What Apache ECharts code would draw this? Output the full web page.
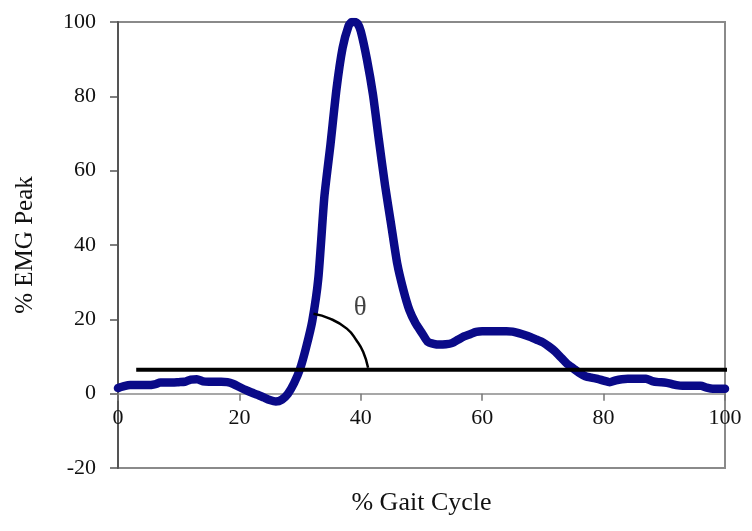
<!DOCTYPE html>
<html>
<head>
<meta charset="utf-8">
<script src="https://cdn.jsdelivr.net/npm/echarts@6/dist/echarts.min.js"></script>
<style>
  html, body { margin: 0; padding: 0; background: #fff; }
  #chart { width: 752px; height: 531px; }
</style>
</head>
<body>
<div id="chart"></div>
<script>
// EMG 曲线数据 (% gait cycle -> % EMG peak)
const gaitPct = [0, 1, 2, 3, 4, 5, 6, 7, 8, 9, 10, 11, 12, 13, 14, 15, 16, 17, 18, 19,
  20, 21, 22, 23, 24, 25, 26, 27, 28, 29, 30, 31, 32, 33, 34, 35, 36, 37, 38, 38.5, 39, 39.5, 40,
  41, 42, 43, 44, 45, 46, 47, 48, 49, 50, 51, 52, 53, 54, 55, 56, 57, 58, 59, 60,
  61, 62, 63, 64, 65, 66, 67, 68, 69, 70, 71, 72, 73, 74, 75, 76, 77, 78, 79, 80,
  81, 82, 83, 84, 85, 86, 87, 88, 89, 90, 91, 92, 93, 94, 95, 96, 97, 98, 99, 100];
const emgPct = [1.5, 2.0, 2.3, 2.3, 2.3, 2.3, 2.5, 3.0, 3.0, 3.0, 3.1, 3.2, 3.8, 3.9, 3.3, 3.2, 3.2, 3.2, 3.1, 2.6,
  1.8, 1.0, 0.3, -0.3, -1.0, -1.7, -2.1, -1.6, 0.0, 2.8, 6.7, 12.5, 19.5, 31, 53, 67, 82, 93, 99, 100, 100, 99.5, 97.5,
  90, 80.5, 68, 56, 45.5, 35, 28, 22.5, 19, 16.5, 14, 13.4, 13.2, 13.3, 13.6, 14.5, 15.4, 16.0, 16.6, 16.8,
  16.8, 16.8, 16.8, 16.8, 16.7, 16.3, 15.8, 15.2, 14.5, 13.8, 12.7, 11.4, 9.7, 8.0, 6.8, 5.6, 4.7, 4.3, 4.0, 3.5,
  3.1, 3.6, 3.9, 4.0, 4.0, 4.0, 4.0, 3.4, 3.1, 3.0, 2.7, 2.3, 2.1, 2.1, 2.1, 2.1, 1.6, 1.3, 1.3, 1.3];

// 水平参考线
const baseLineX = [3, 100.5];
const baseLineY = [6.45, 6.45];

// θ 角弧线
const arcX = [32.2, 34.9, 37.7, 39.3, 40.4, 41.2];
const arcY = [21.5, 20.2, 17.5, 14.3, 11.2, 7.0];
const thetaPos = [39.9, 23];

const xTicks = [0, 20, 40, 60, 80, 100];
const yTicks = [-20, 0, 20, 40, 60, 80, 100];

const serif = "'Liberation Serif', 'DejaVu Serif', serif";
const zip = (a, b) => a.map((v, i) => [v, b[i]]);

const myChart = echarts.init(document.getElementById('chart'));
const option = {
  backgroundColor: '#fff',
  animation: false,
  grid: {
    left: 118,
    right: 27,
    top: 22,
    bottom: 63,
    containLabel: false,
    outerBoundsMode: 'none',
    show: true,
    borderColor: '#8a8a8a',
    borderWidth: 2
  },
  xAxis: {
    type: 'value',
    min: xTicks[0],
    max: xTicks[xTicks.length - 1],
    interval: 20,
    name: '% Gait Cycle',
    nameLocation: 'middle',
    nameGap: 22,
    nameMoveOverlap: false,
    nameTextStyle: { fontFamily: serif, fontSize: 26, color: '#111' },
    axisLine: { onZero: true, lineStyle: { color: '#8a8a8a', width: 1.5 } },
    axisTick: { show: true, length: 7, lineStyle: { color: '#777', width: 1.5 } },
    // 标签贴在零线下方
    axisLabel: { fontFamily: serif, fontSize: 22, color: '#111', margin: -61 },
    splitLine: { show: false }
  },
  yAxis: {
    type: 'value',
    min: yTicks[0],
    max: yTicks[yTicks.length - 1],
    interval: 20,
    name: '% EMG Peak',
    nameLocation: 'middle',
    nameGap: 80,
    nameRotate: 90,
    nameMoveOverlap: false,
    nameTextStyle: { fontFamily: serif, fontSize: 25, color: '#111' },
    axisLine: { show: true, onZero: false, lineStyle: { color: '#555', width: 2 } },
    axisTick: { show: true, length: 8, lineStyle: { color: '#555', width: 1.5 } },
    axisLabel: { fontFamily: serif, fontSize: 22, color: '#111', margin: 22 },
    splitLine: { show: false }
  },
  series: [
    {
      type: 'line',
      data: zip(gaitPct, emgPct),
      showSymbol: false,
      smooth: 0.2,
      lineStyle: { color: '#0a0a88', width: 8.5, cap: 'round', join: 'round' },
      z: 2
    },
    {
      type: 'line',
      data: zip(baseLineX, baseLineY),
      showSymbol: false,
      clip: false,
      lineStyle: { color: '#000', width: 4 },
      z: 3
    },
    {
      type: 'line',
      data: zip(arcX, arcY),
      showSymbol: false,
      smooth: true,
      lineStyle: { color: '#000', width: 2.5 },
      z: 4
    },
    {
      type: 'scatter',
      data: [thetaPos],
      symbolSize: 0,
      label: {
        show: true,
        position: 'inside',
        formatter: 'θ',
        fontFamily: serif,
        fontSize: 27,
        color: '#111'
      },
      z: 5
    }
  ]
};
myChart.setOption(option);
</script>
</body>
</html>
